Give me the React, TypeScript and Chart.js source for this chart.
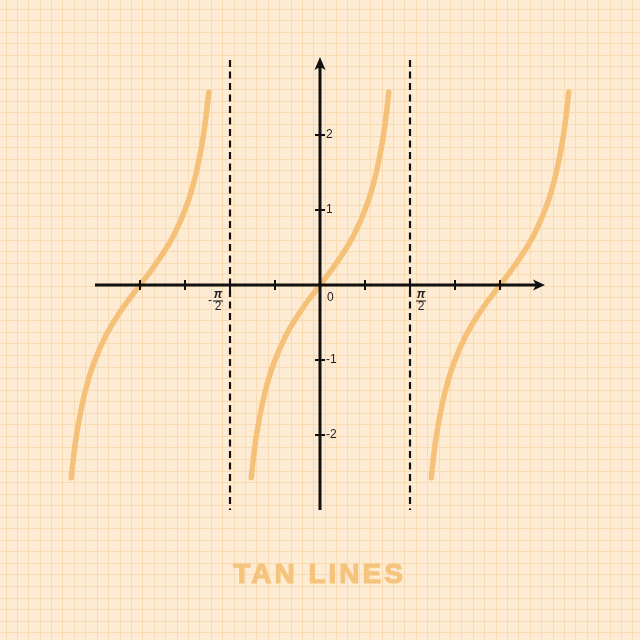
import React, { useEffect, useRef } from "react";
import { Chart, registerables } from "chart.js";

Chart.register(...registerables);

const PI = Math.PI;

// ---- data ----
const branchCenters = [-PI, 0, PI];
const branchOffsets = [-1.2, -1.15, -1.1, -1.0, -0.9, -0.8, -0.6, -0.4, -0.2, 0, 0.2, 0.4, 0.6, 0.8, 0.9, 1.0, 1.1, 1.15, 1.2];
const branchValues = [-2.57, -2.23, -1.96, -1.56, -1.26, -1.03, -0.68, -0.42, -0.2, 0, 0.2, 0.42, 0.68, 1.03, 1.26, 1.56, 1.96, 2.23, 2.57];
const asymptoteXs = [-PI / 2, PI / 2];
const asymptoteYRange = [-3, 3];
const xAxisRange = [(-5 * PI) / 4, (5 * PI) / 4];
const yAxisRange = [-3, 3.04];
const xTickValues = [-PI, (-3 * PI) / 4, -PI / 2, -PI / 4, PI / 4, PI / 2, (3 * PI) / 4, PI];
const yTickValues = [-2, -1, 1, 2];
const yTickLabels = ["-2", "-1", "1", "2"];
const xFractionValues = [-PI / 2, PI / 2];
const xFractionSigns = ["-", ""];
const fractionNumerator = "π";
const fractionDenominator = "2";
const originLabel = "0";
const titleText = "TAN LINES";

// ---- view ----
const X_MIN = -5.5851;
const X_MAX = 5.5851;
const Y_MIN = -4.7333;
const Y_MAX = 3.8;
const GRID_X_STEP = 11.4;
const GRID_X_START = 6;
const GRID_Y_STEP = 11.55;
const GRID_Y_START = 9;

const BG = "#FEEBD3";
const GRID = "#F8DAB3";
const CURVE = "#F5C078";
const INK = "#111111";
const TITLE = "#F5C47C";

const gridXs: number[] = [];
for (let v = GRID_X_START; v < 640; v += GRID_X_STEP) gridXs.push(v);
const gridYs: number[] = [];
for (let v = GRID_Y_START; v < 640; v += GRID_Y_STEP) gridYs.push(v);

const decorPlugin = {
  id: "decor",
  beforeDraw(chart: any) {
    const { ctx, width, height } = chart;
    ctx.save();
    ctx.fillStyle = BG;
    ctx.fillRect(0, 0, width, height);
    ctx.restore();
  },
  afterDatasetsDraw(chart: any) {
    const { ctx } = chart;
    const xs = chart.scales.x;
    const ys = chart.scales.y;
    const X = (v: number) => xs.getPixelForValue(v);
    const Y = (v: number) => ys.getPixelForValue(v);
    const x0 = X(0);
    const y0 = Y(0);
    ctx.save();
    ctx.strokeStyle = INK;
    ctx.fillStyle = INK;

    // asymptotes
    ctx.lineWidth = 2.2;
    ctx.setLineDash([7, 4.5]);
    for (const a of asymptoteXs) {
      ctx.beginPath();
      ctx.moveTo(X(a), Y(asymptoteYRange[1]));
      ctx.lineTo(X(a), Y(asymptoteYRange[0]));
      ctx.stroke();
    }
    ctx.setLineDash([]);

    // x axis
    ctx.lineWidth = 3;
    const xl = X(xAxisRange[0]);
    const xr = X(xAxisRange[1]);
    ctx.beginPath();
    ctx.moveTo(xl, y0);
    ctx.lineTo(xr - 6, y0);
    ctx.stroke();
    ctx.beginPath();
    ctx.moveTo(xr, y0);
    ctx.lineTo(xr - 12, y0 - 5.5);
    ctx.lineTo(xr - 9, y0);
    ctx.lineTo(xr - 12, y0 + 5.5);
    ctx.closePath();
    ctx.fill();

    // y axis
    const yb = Y(yAxisRange[0]);
    const yt = Y(yAxisRange[1]);
    ctx.beginPath();
    ctx.moveTo(x0, yb);
    ctx.lineTo(x0, yt + 6);
    ctx.stroke();
    ctx.beginPath();
    ctx.moveTo(x0, yt);
    ctx.lineTo(x0 - 5.5, yt + 13);
    ctx.lineTo(x0, yt + 10);
    ctx.lineTo(x0 + 5.5, yt + 13);
    ctx.closePath();
    ctx.fill();

    // ticks
    ctx.lineWidth = 2;
    for (const t of xTickValues) {
      const px = X(t);
      ctx.beginPath();
      ctx.moveTo(px, y0 - 5);
      ctx.lineTo(px, y0 + 5);
      ctx.stroke();
    }
    for (const t of yTickValues) {
      const py = Y(t);
      ctx.beginPath();
      ctx.moveTo(x0 - 5, py);
      ctx.lineTo(x0 + 5, py);
      ctx.stroke();
    }

    // labels
    ctx.fillStyle = "#222";
    ctx.font = "12px 'Liberation Sans', Arial, sans-serif";
    ctx.textAlign = "left";
    ctx.textBaseline = "middle";
    yTickValues.forEach((t, i) => {
      ctx.fillText(yTickLabels[i], x0 + 6, Y(t));
    });
    ctx.fillText(originLabel, x0 + 7, y0 + 13);

    xFractionValues.forEach((v, i) => {
      const neg = xFractionSigns[i] !== "";
      const cx = X(v) + (neg ? -12 : 11);
      ctx.textAlign = "center";
      ctx.font = "italic bold 12px 'Liberation Sans', Arial, sans-serif";
      ctx.fillText(fractionNumerator, cx, y0 + 10);
      ctx.font = "12px 'Liberation Sans', Arial, sans-serif";
      ctx.fillText(fractionDenominator, cx, y0 + 22);
      ctx.lineWidth = 1;
      ctx.beginPath();
      ctx.moveTo(cx - 5, y0 + 16);
      ctx.lineTo(cx + 5, y0 + 16);
      ctx.stroke();
      if (neg) {
        ctx.textAlign = "right";
        ctx.fillText(xFractionSigns[i], cx - 6, y0 + 16);
      }
    });

    // title
    ctx.fillStyle = TITLE;
    ctx.strokeStyle = TITLE;
    ctx.lineWidth = 1.2;
    ctx.lineJoin = "round";
    ctx.font = "bold 28px 'Liberation Sans', Arial, sans-serif";
    (ctx as any).letterSpacing = "3px";
    ctx.textAlign = "left";
    ctx.textBaseline = "alphabetic";
    const w = ctx.measureText(titleText).width - 3;
    const tx = chart.width / 2 - 2 - w / 2;
    ctx.fillText(titleText, tx, 583);
    ctx.strokeText(titleText, tx, 583);
    ctx.restore();
  },
};

export default function App() {
  const ref = useRef<HTMLCanvasElement | null>(null);

  useEffect(() => {
    if (!ref.current) return;
    const datasets = branchCenters.map((c, bi) => ({
      label: "tan " + bi,
      data: branchOffsets.map((o, i) => ({ x: c + o, y: branchValues[i] })),
      borderColor: CURVE,
      borderWidth: 5.5,
      borderCapStyle: "round" as const,
      pointRadius: 0,
      fill: false,
      cubicInterpolationMode: "monotone" as const,
    }));
    const chart = new Chart(ref.current, {
      type: "line",
      data: { datasets },
      options: {
        animation: false,
        responsive: false,
        events: [],
        layout: { padding: 0 },
        plugins: { legend: { display: false }, tooltip: { enabled: false }, title: { display: false } },
        scales: {
          x: { type: "linear", display: false, min: X_MIN, max: X_MAX },
          y: { type: "linear", display: false, min: Y_MIN, max: Y_MAX },
          gx: {
            type: "linear",
            axis: "x",
            position: "bottom",
            min: 0,
            max: 640,
            ticks: { display: false },
            border: { display: false },
            grid: { color: GRID, lineWidth: 1, drawTicks: false },
            afterBuildTicks: (scale: any) => {
              scale.ticks = gridXs.map((v) => ({ value: v }));
            },
          },
          gy: {
            type: "linear",
            axis: "y",
            position: "left",
            reverse: true,
            min: 0,
            max: 640,
            ticks: { display: false },
            border: { display: false },
            grid: { color: GRID, lineWidth: 1, drawTicks: false },
            afterBuildTicks: (scale: any) => {
              scale.ticks = gridYs.map((v) => ({ value: v }));
            },
          },
        },
      } as any,
      plugins: [decorPlugin],
    });
    return () => chart.destroy();
  }, []);

  return (
    <div style={{ position: "fixed", left: 0, top: 0, width: 640, height: 640 }}>
      <canvas ref={ref} width={640} height={640} style={{ display: "block" }} />
    </div>
  );
}
